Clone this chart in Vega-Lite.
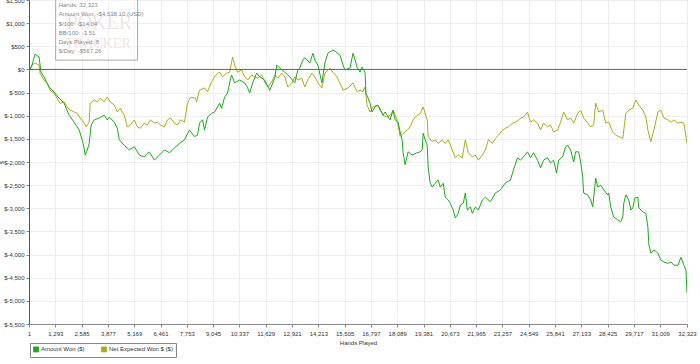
{
  "$schema": "https://vega.github.io/schema/vega-lite/v6.json",
  "width": 658,
  "height": 324,
  "autosize": {"type": "none"},
  "padding": {"left": 29, "top": 0, "right": 13, "bottom": 40},
  "background": "white",
  "config": {
    "font": "Liberation Sans",
    "view": {"stroke": "#888", "strokeWidth": 1},
    "axis": {"labelFontSize": 6, "labelColor": "#333", "titleFontSize": 6, "titleFontWeight": "normal", "titleColor": "#333", "gridColor": "#eeeeee", "tickColor": "#888", "tickSize": 3}
  },
  "datasets": {
    "series": [
      {"hands": 1, "value": -50, "series": "Net Expected Won $ ($)"},
      {"hands": 149, "value": 95, "series": "Net Expected Won $ ($)"},
      {"hands": 297, "value": 140, "series": "Net Expected Won $ ($)"},
      {"hands": 494, "value": 95, "series": "Net Expected Won $ ($)"},
      {"hands": 543, "value": -80, "series": "Net Expected Won $ ($)"},
      {"hands": 740, "value": -230, "series": "Net Expected Won $ ($)"},
      {"hands": 888, "value": -290, "series": "Net Expected Won $ ($)"},
      {"hands": 1036, "value": -450, "series": "Net Expected Won $ ($)"},
      {"hands": 1233, "value": -510, "series": "Net Expected Won $ ($)"},
      {"hands": 1381, "value": -620, "series": "Net Expected Won $ ($)"},
      {"hands": 1528, "value": -730, "series": "Net Expected Won $ ($)"},
      {"hands": 1725, "value": -700, "series": "Net Expected Won $ ($)"},
      {"hands": 1873, "value": -810, "series": "Net Expected Won $ ($)"},
      {"hands": 2021, "value": -880, "series": "Net Expected Won $ ($)"},
      {"hands": 2218, "value": -920, "series": "Net Expected Won $ ($)"},
      {"hands": 2366, "value": -950, "series": "Net Expected Won $ ($)"},
      {"hands": 2514, "value": -1050, "series": "Net Expected Won $ ($)"},
      {"hands": 2711, "value": -1160, "series": "Net Expected Won $ ($)"},
      {"hands": 2809, "value": -1240, "series": "Net Expected Won $ ($)"},
      {"hands": 2957, "value": -1140, "series": "Net Expected Won $ ($)"},
      {"hands": 3006, "value": -730, "series": "Net Expected Won $ ($)"},
      {"hands": 3204, "value": -660, "series": "Net Expected Won $ ($)"},
      {"hands": 3351, "value": -700, "series": "Net Expected Won $ ($)"},
      {"hands": 3499, "value": -620, "series": "Net Expected Won $ ($)"},
      {"hands": 3696, "value": -700, "series": "Net Expected Won $ ($)"},
      {"hands": 3844, "value": -600, "series": "Net Expected Won $ ($)"},
      {"hands": 3992, "value": -700, "series": "Net Expected Won $ ($)"},
      {"hands": 4189, "value": -770, "series": "Net Expected Won $ ($)"},
      {"hands": 4337, "value": -920, "series": "Net Expected Won $ ($)"},
      {"hands": 4485, "value": -840, "series": "Net Expected Won $ ($)"},
      {"hands": 4682, "value": -990, "series": "Net Expected Won $ ($)"},
      {"hands": 4829, "value": -1240, "series": "Net Expected Won $ ($)"},
      {"hands": 4977, "value": -1200, "series": "Net Expected Won $ ($)"},
      {"hands": 5174, "value": -1090, "series": "Net Expected Won $ ($)"},
      {"hands": 5322, "value": -1240, "series": "Net Expected Won $ ($)"},
      {"hands": 5470, "value": -1270, "series": "Net Expected Won $ ($)"},
      {"hands": 5667, "value": -1160, "series": "Net Expected Won $ ($)"},
      {"hands": 5815, "value": -1200, "series": "Net Expected Won $ ($)"},
      {"hands": 5963, "value": -1090, "series": "Net Expected Won $ ($)"},
      {"hands": 6160, "value": -1160, "series": "Net Expected Won $ ($)"},
      {"hands": 6308, "value": -1140, "series": "Net Expected Won $ ($)"},
      {"hands": 6455, "value": -1200, "series": "Net Expected Won $ ($)"},
      {"hands": 6652, "value": -1240, "series": "Net Expected Won $ ($)"},
      {"hands": 6800, "value": -1090, "series": "Net Expected Won $ ($)"},
      {"hands": 6948, "value": -1050, "series": "Net Expected Won $ ($)"},
      {"hands": 7145, "value": -1160, "series": "Net Expected Won $ ($)"},
      {"hands": 7293, "value": -1200, "series": "Net Expected Won $ ($)"},
      {"hands": 7441, "value": -1090, "series": "Net Expected Won $ ($)"},
      {"hands": 7638, "value": -1140, "series": "Net Expected Won $ ($)"},
      {"hands": 7786, "value": -730, "series": "Net Expected Won $ ($)"},
      {"hands": 7934, "value": -600, "series": "Net Expected Won $ ($)"},
      {"hands": 8180, "value": -620, "series": "Net Expected Won $ ($)"},
      {"hands": 8229, "value": -700, "series": "Net Expected Won $ ($)"},
      {"hands": 8377, "value": -450, "series": "Net Expected Won $ ($)"},
      {"hands": 8623, "value": -400, "series": "Net Expected Won $ ($)"},
      {"hands": 8771, "value": -480, "series": "Net Expected Won $ ($)"},
      {"hands": 8968, "value": -270, "series": "Net Expected Won $ ($)"},
      {"hands": 9116, "value": -160, "series": "Net Expected Won $ ($)"},
      {"hands": 9264, "value": -80, "series": "Net Expected Won $ ($)"},
      {"hands": 9362, "value": -60, "series": "Net Expected Won $ ($)"},
      {"hands": 9510, "value": -160, "series": "Net Expected Won $ ($)"},
      {"hands": 9707, "value": -80, "series": "Net Expected Won $ ($)"},
      {"hands": 9855, "value": -60, "series": "Net Expected Won $ ($)"},
      {"hands": 10003, "value": 270, "series": "Net Expected Won $ ($)"},
      {"hands": 10101, "value": 95, "series": "Net Expected Won $ ($)"},
      {"hands": 10249, "value": -60, "series": "Net Expected Won $ ($)"},
      {"hands": 10446, "value": -10, "series": "Net Expected Won $ ($)"},
      {"hands": 10594, "value": -160, "series": "Net Expected Won $ ($)"},
      {"hands": 10742, "value": -230, "series": "Net Expected Won $ ($)"},
      {"hands": 10939, "value": -120, "series": "Net Expected Won $ ($)"},
      {"hands": 11087, "value": -160, "series": "Net Expected Won $ ($)"},
      {"hands": 11234, "value": -190, "series": "Net Expected Won $ ($)"},
      {"hands": 11432, "value": -120, "series": "Net Expected Won $ ($)"},
      {"hands": 11579, "value": -270, "series": "Net Expected Won $ ($)"},
      {"hands": 11727, "value": -380, "series": "Net Expected Won $ ($)"},
      {"hands": 11924, "value": -270, "series": "Net Expected Won $ ($)"},
      {"hands": 12072, "value": -120, "series": "Net Expected Won $ ($)"},
      {"hands": 12220, "value": -190, "series": "Net Expected Won $ ($)"},
      {"hands": 12417, "value": -80, "series": "Net Expected Won $ ($)"},
      {"hands": 12565, "value": -160, "series": "Net Expected Won $ ($)"},
      {"hands": 12713, "value": -380, "series": "Net Expected Won $ ($)"},
      {"hands": 12910, "value": -290, "series": "Net Expected Won $ ($)"},
      {"hands": 13058, "value": -160, "series": "Net Expected Won $ ($)"},
      {"hands": 13206, "value": -230, "series": "Net Expected Won $ ($)"},
      {"hands": 13403, "value": -190, "series": "Net Expected Won $ ($)"},
      {"hands": 13550, "value": -380, "series": "Net Expected Won $ ($)"},
      {"hands": 13698, "value": -230, "series": "Net Expected Won $ ($)"},
      {"hands": 13895, "value": -80, "series": "Net Expected Won $ ($)"},
      {"hands": 14043, "value": -160, "series": "Net Expected Won $ ($)"},
      {"hands": 14191, "value": -290, "series": "Net Expected Won $ ($)"},
      {"hands": 14388, "value": -400, "series": "Net Expected Won $ ($)"},
      {"hands": 14536, "value": -80, "series": "Net Expected Won $ ($)"},
      {"hands": 14782, "value": 30, "series": "Net Expected Won $ ($)"},
      {"hands": 14930, "value": -60, "series": "Net Expected Won $ ($)"},
      {"hands": 15127, "value": -160, "series": "Net Expected Won $ ($)"},
      {"hands": 15374, "value": -380, "series": "Net Expected Won $ ($)"},
      {"hands": 15423, "value": -450, "series": "Net Expected Won $ ($)"},
      {"hands": 15669, "value": -400, "series": "Net Expected Won $ ($)"},
      {"hands": 15916, "value": -290, "series": "Net Expected Won $ ($)"},
      {"hands": 16112, "value": -480, "series": "Net Expected Won $ ($)"},
      {"hands": 16260, "value": -450, "series": "Net Expected Won $ ($)"},
      {"hands": 16408, "value": -480, "series": "Net Expected Won $ ($)"},
      {"hands": 16506, "value": -380, "series": "Net Expected Won $ ($)"},
      {"hands": 16605, "value": -770, "series": "Net Expected Won $ ($)"},
      {"hands": 16753, "value": -920, "series": "Net Expected Won $ ($)"},
      {"hands": 16901, "value": -810, "series": "Net Expected Won $ ($)"},
      {"hands": 17098, "value": -770, "series": "Net Expected Won $ ($)"},
      {"hands": 17246, "value": -840, "series": "Net Expected Won $ ($)"},
      {"hands": 17393, "value": -990, "series": "Net Expected Won $ ($)"},
      {"hands": 17590, "value": -1030, "series": "Net Expected Won $ ($)"},
      {"hands": 17738, "value": -990, "series": "Net Expected Won $ ($)"},
      {"hands": 17886, "value": -880, "series": "Net Expected Won $ ($)"},
      {"hands": 18083, "value": -1090, "series": "Net Expected Won $ ($)"},
      {"hands": 18231, "value": -1450, "series": "Net Expected Won $ ($)"},
      {"hands": 18379, "value": -1380, "series": "Net Expected Won $ ($)"},
      {"hands": 18576, "value": -1310, "series": "Net Expected Won $ ($)"},
      {"hands": 18724, "value": -1240, "series": "Net Expected Won $ ($)"},
      {"hands": 18871, "value": -1090, "series": "Net Expected Won $ ($)"},
      {"hands": 19068, "value": -990, "series": "Net Expected Won $ ($)"},
      {"hands": 19216, "value": -950, "series": "Net Expected Won $ ($)"},
      {"hands": 19364, "value": -810, "series": "Net Expected Won $ ($)"},
      {"hands": 19561, "value": -1090, "series": "Net Expected Won $ ($)"},
      {"hands": 19610, "value": -1450, "series": "Net Expected Won $ ($)"},
      {"hands": 19808, "value": -1560, "series": "Net Expected Won $ ($)"},
      {"hands": 19955, "value": -1520, "series": "Net Expected Won $ ($)"},
      {"hands": 20103, "value": -1600, "series": "Net Expected Won $ ($)"},
      {"hands": 20300, "value": -1520, "series": "Net Expected Won $ ($)"},
      {"hands": 20448, "value": -1600, "series": "Net Expected Won $ ($)"},
      {"hands": 20596, "value": -1520, "series": "Net Expected Won $ ($)"},
      {"hands": 20793, "value": -1740, "series": "Net Expected Won $ ($)"},
      {"hands": 20941, "value": -1910, "series": "Net Expected Won $ ($)"},
      {"hands": 21089, "value": -1850, "series": "Net Expected Won $ ($)"},
      {"hands": 21286, "value": -1910, "series": "Net Expected Won $ ($)"},
      {"hands": 21434, "value": -1520, "series": "Net Expected Won $ ($)"},
      {"hands": 21581, "value": -1800, "series": "Net Expected Won $ ($)"},
      {"hands": 21779, "value": -1890, "series": "Net Expected Won $ ($)"},
      {"hands": 21926, "value": -1850, "series": "Net Expected Won $ ($)"},
      {"hands": 22074, "value": -1960, "series": "Net Expected Won $ ($)"},
      {"hands": 22271, "value": -1850, "series": "Net Expected Won $ ($)"},
      {"hands": 22419, "value": -1740, "series": "Net Expected Won $ ($)"},
      {"hands": 22567, "value": -1520, "series": "Net Expected Won $ ($)"},
      {"hands": 22764, "value": -1600, "series": "Net Expected Won $ ($)"},
      {"hands": 22912, "value": -1490, "series": "Net Expected Won $ ($)"},
      {"hands": 23060, "value": -1420, "series": "Net Expected Won $ ($)"},
      {"hands": 23257, "value": -1310, "series": "Net Expected Won $ ($)"},
      {"hands": 23405, "value": -1270, "series": "Net Expected Won $ ($)"},
      {"hands": 23553, "value": -1240, "series": "Net Expected Won $ ($)"},
      {"hands": 23750, "value": -1160, "series": "Net Expected Won $ ($)"},
      {"hands": 23897, "value": -1140, "series": "Net Expected Won $ ($)"},
      {"hands": 24045, "value": -1100, "series": "Net Expected Won $ ($)"},
      {"hands": 24144, "value": -1050, "series": "Net Expected Won $ ($)"},
      {"hands": 24292, "value": -1030, "series": "Net Expected Won $ ($)"},
      {"hands": 24489, "value": -920, "series": "Net Expected Won $ ($)"},
      {"hands": 24636, "value": -1140, "series": "Net Expected Won $ ($)"},
      {"hands": 24784, "value": -1090, "series": "Net Expected Won $ ($)"},
      {"hands": 24981, "value": -1160, "series": "Net Expected Won $ ($)"},
      {"hands": 25129, "value": -1310, "series": "Net Expected Won $ ($)"},
      {"hands": 25277, "value": -1160, "series": "Net Expected Won $ ($)"},
      {"hands": 25474, "value": -1240, "series": "Net Expected Won $ ($)"},
      {"hands": 25621, "value": -1200, "series": "Net Expected Won $ ($)"},
      {"hands": 25769, "value": -1350, "series": "Net Expected Won $ ($)"},
      {"hands": 25966, "value": -1310, "series": "Net Expected Won $ ($)"},
      {"hands": 26114, "value": -1140, "series": "Net Expected Won $ ($)"},
      {"hands": 26262, "value": -920, "series": "Net Expected Won $ ($)"},
      {"hands": 26459, "value": -1090, "series": "Net Expected Won $ ($)"},
      {"hands": 26607, "value": -1050, "series": "Net Expected Won $ ($)"},
      {"hands": 26755, "value": -1160, "series": "Net Expected Won $ ($)"},
      {"hands": 26952, "value": -950, "series": "Net Expected Won $ ($)"},
      {"hands": 27100, "value": -880, "series": "Net Expected Won $ ($)"},
      {"hands": 27247, "value": -1050, "series": "Net Expected Won $ ($)"},
      {"hands": 27444, "value": -1160, "series": "Net Expected Won $ ($)"},
      {"hands": 27592, "value": -1240, "series": "Net Expected Won $ ($)"},
      {"hands": 27740, "value": -1200, "series": "Net Expected Won $ ($)"},
      {"hands": 27838, "value": -730, "series": "Net Expected Won $ ($)"},
      {"hands": 27986, "value": -920, "series": "Net Expected Won $ ($)"},
      {"hands": 28183, "value": -880, "series": "Net Expected Won $ ($)"},
      {"hands": 28331, "value": -1160, "series": "Net Expected Won $ ($)"},
      {"hands": 28479, "value": -1140, "series": "Net Expected Won $ ($)"},
      {"hands": 28676, "value": -1350, "series": "Net Expected Won $ ($)"},
      {"hands": 28824, "value": -1420, "series": "Net Expected Won $ ($)"},
      {"hands": 28972, "value": -1450, "series": "Net Expected Won $ ($)"},
      {"hands": 29169, "value": -1490, "series": "Net Expected Won $ ($)"},
      {"hands": 29218, "value": -1310, "series": "Net Expected Won $ ($)"},
      {"hands": 29317, "value": -950, "series": "Net Expected Won $ ($)"},
      {"hands": 29464, "value": -880, "series": "Net Expected Won $ ($)"},
      {"hands": 29662, "value": -840, "series": "Net Expected Won $ ($)"},
      {"hands": 29809, "value": -660, "series": "Net Expected Won $ ($)"},
      {"hands": 29957, "value": -770, "series": "Net Expected Won $ ($)"},
      {"hands": 30154, "value": -880, "series": "Net Expected Won $ ($)"},
      {"hands": 30302, "value": -1030, "series": "Net Expected Won $ ($)"},
      {"hands": 30401, "value": -1310, "series": "Net Expected Won $ ($)"},
      {"hands": 30549, "value": -1560, "series": "Net Expected Won $ ($)"},
      {"hands": 30696, "value": -1310, "series": "Net Expected Won $ ($)"},
      {"hands": 30893, "value": -920, "series": "Net Expected Won $ ($)"},
      {"hands": 31041, "value": -880, "series": "Net Expected Won $ ($)"},
      {"hands": 31189, "value": -1050, "series": "Net Expected Won $ ($)"},
      {"hands": 31386, "value": -1090, "series": "Net Expected Won $ ($)"},
      {"hands": 31534, "value": -1140, "series": "Net Expected Won $ ($)"},
      {"hands": 31681, "value": -1090, "series": "Net Expected Won $ ($)"},
      {"hands": 31878, "value": -1160, "series": "Net Expected Won $ ($)"},
      {"hands": 32026, "value": -1140, "series": "Net Expected Won $ ($)"},
      {"hands": 32174, "value": -1160, "series": "Net Expected Won $ ($)"},
      {"hands": 32323, "value": -1600, "series": "Net Expected Won $ ($)"},
      {"hands": 1, "value": -50, "series": "Amount Won ($)"},
      {"hands": 149, "value": 95, "series": "Amount Won ($)"},
      {"hands": 297, "value": 330, "series": "Amount Won ($)"},
      {"hands": 494, "value": 270, "series": "Amount Won ($)"},
      {"hands": 592, "value": -60, "series": "Amount Won ($)"},
      {"hands": 740, "value": -160, "series": "Amount Won ($)"},
      {"hands": 986, "value": -380, "series": "Amount Won ($)"},
      {"hands": 1233, "value": -490, "series": "Amount Won ($)"},
      {"hands": 1479, "value": -620, "series": "Amount Won ($)"},
      {"hands": 1725, "value": -730, "series": "Amount Won ($)"},
      {"hands": 1972, "value": -990, "series": "Amount Won ($)"},
      {"hands": 2218, "value": -1140, "series": "Amount Won ($)"},
      {"hands": 2465, "value": -1310, "series": "Amount Won ($)"},
      {"hands": 2612, "value": -1520, "series": "Amount Won ($)"},
      {"hands": 2711, "value": -1700, "series": "Amount Won ($)"},
      {"hands": 2760, "value": -1850, "series": "Amount Won ($)"},
      {"hands": 2859, "value": -1750, "series": "Amount Won ($)"},
      {"hands": 2957, "value": -1600, "series": "Amount Won ($)"},
      {"hands": 3056, "value": -1200, "series": "Amount Won ($)"},
      {"hands": 3204, "value": -1090, "series": "Amount Won ($)"},
      {"hands": 3450, "value": -1050, "series": "Amount Won ($)"},
      {"hands": 3696, "value": -990, "series": "Amount Won ($)"},
      {"hands": 3844, "value": -1090, "series": "Amount Won ($)"},
      {"hands": 3943, "value": -1030, "series": "Amount Won ($)"},
      {"hands": 4189, "value": -1140, "series": "Amount Won ($)"},
      {"hands": 4337, "value": -1270, "series": "Amount Won ($)"},
      {"hands": 4435, "value": -1520, "series": "Amount Won ($)"},
      {"hands": 4682, "value": -1640, "series": "Amount Won ($)"},
      {"hands": 4928, "value": -1740, "series": "Amount Won ($)"},
      {"hands": 5174, "value": -1670, "series": "Amount Won ($)"},
      {"hands": 5421, "value": -1850, "series": "Amount Won ($)"},
      {"hands": 5667, "value": -1890, "series": "Amount Won ($)"},
      {"hands": 5913, "value": -1780, "series": "Amount Won ($)"},
      {"hands": 6160, "value": -1960, "series": "Amount Won ($)"},
      {"hands": 6406, "value": -1850, "series": "Amount Won ($)"},
      {"hands": 6652, "value": -1740, "series": "Amount Won ($)"},
      {"hands": 6899, "value": -1800, "series": "Amount Won ($)"},
      {"hands": 7145, "value": -1700, "series": "Amount Won ($)"},
      {"hands": 7391, "value": -1600, "series": "Amount Won ($)"},
      {"hands": 7638, "value": -1520, "series": "Amount Won ($)"},
      {"hands": 7884, "value": -1310, "series": "Amount Won ($)"},
      {"hands": 8131, "value": -1450, "series": "Amount Won ($)"},
      {"hands": 8279, "value": -1420, "series": "Amount Won ($)"},
      {"hands": 8377, "value": -1160, "series": "Amount Won ($)"},
      {"hands": 8525, "value": -1090, "series": "Amount Won ($)"},
      {"hands": 8623, "value": -1310, "series": "Amount Won ($)"},
      {"hands": 8771, "value": -1030, "series": "Amount Won ($)"},
      {"hands": 8968, "value": -950, "series": "Amount Won ($)"},
      {"hands": 9116, "value": -920, "series": "Amount Won ($)"},
      {"hands": 9264, "value": -810, "series": "Amount Won ($)"},
      {"hands": 9362, "value": -730, "series": "Amount Won ($)"},
      {"hands": 9461, "value": -840, "series": "Amount Won ($)"},
      {"hands": 9609, "value": -600, "series": "Amount Won ($)"},
      {"hands": 9756, "value": -510, "series": "Amount Won ($)"},
      {"hands": 9855, "value": -290, "series": "Amount Won ($)"},
      {"hands": 9953, "value": -120, "series": "Amount Won ($)"},
      {"hands": 10101, "value": -290, "series": "Amount Won ($)"},
      {"hands": 10348, "value": -230, "series": "Amount Won ($)"},
      {"hands": 10594, "value": -290, "series": "Amount Won ($)"},
      {"hands": 10742, "value": -400, "series": "Amount Won ($)"},
      {"hands": 10840, "value": -510, "series": "Amount Won ($)"},
      {"hands": 10988, "value": -290, "series": "Amount Won ($)"},
      {"hands": 11185, "value": -80, "series": "Amount Won ($)"},
      {"hands": 11333, "value": -160, "series": "Amount Won ($)"},
      {"hands": 11579, "value": -230, "series": "Amount Won ($)"},
      {"hands": 11826, "value": -450, "series": "Amount Won ($)"},
      {"hands": 12072, "value": -190, "series": "Amount Won ($)"},
      {"hands": 12171, "value": 95, "series": "Amount Won ($)"},
      {"hands": 12319, "value": 30, "series": "Amount Won ($)"},
      {"hands": 12565, "value": -60, "series": "Amount Won ($)"},
      {"hands": 12811, "value": -160, "series": "Amount Won ($)"},
      {"hands": 13058, "value": -290, "series": "Amount Won ($)"},
      {"hands": 13206, "value": -10, "series": "Amount Won ($)"},
      {"hands": 13304, "value": 30, "series": "Amount Won ($)"},
      {"hands": 13452, "value": 200, "series": "Amount Won ($)"},
      {"hands": 13550, "value": 250, "series": "Amount Won ($)"},
      {"hands": 13797, "value": 140, "series": "Amount Won ($)"},
      {"hands": 13945, "value": 350, "series": "Amount Won ($)"},
      {"hands": 14043, "value": 200, "series": "Amount Won ($)"},
      {"hands": 14191, "value": 95, "series": "Amount Won ($)"},
      {"hands": 14388, "value": -290, "series": "Amount Won ($)"},
      {"hands": 14536, "value": 140, "series": "Amount Won ($)"},
      {"hands": 14684, "value": 350, "series": "Amount Won ($)"},
      {"hands": 14930, "value": 420, "series": "Amount Won ($)"},
      {"hands": 15078, "value": 380, "series": "Amount Won ($)"},
      {"hands": 15275, "value": 310, "series": "Amount Won ($)"},
      {"hands": 15423, "value": 95, "series": "Amount Won ($)"},
      {"hands": 15521, "value": -10, "series": "Amount Won ($)"},
      {"hands": 15768, "value": 30, "series": "Amount Won ($)"},
      {"hands": 15916, "value": 350, "series": "Amount Won ($)"},
      {"hands": 16063, "value": 140, "series": "Amount Won ($)"},
      {"hands": 16112, "value": 50, "series": "Amount Won ($)"},
      {"hands": 16260, "value": -60, "series": "Amount Won ($)"},
      {"hands": 16359, "value": 50, "series": "Amount Won ($)"},
      {"hands": 16506, "value": -60, "series": "Amount Won ($)"},
      {"hands": 16556, "value": -510, "series": "Amount Won ($)"},
      {"hands": 16753, "value": -730, "series": "Amount Won ($)"},
      {"hands": 16851, "value": -920, "series": "Amount Won ($)"},
      {"hands": 16999, "value": -810, "series": "Amount Won ($)"},
      {"hands": 17147, "value": -770, "series": "Amount Won ($)"},
      {"hands": 17246, "value": -880, "series": "Amount Won ($)"},
      {"hands": 17393, "value": -990, "series": "Amount Won ($)"},
      {"hands": 17492, "value": -920, "series": "Amount Won ($)"},
      {"hands": 17738, "value": -1090, "series": "Amount Won ($)"},
      {"hands": 17886, "value": -880, "series": "Amount Won ($)"},
      {"hands": 17985, "value": -1090, "series": "Amount Won ($)"},
      {"hands": 18132, "value": -1140, "series": "Amount Won ($)"},
      {"hands": 18231, "value": -1350, "series": "Amount Won ($)"},
      {"hands": 18330, "value": -1520, "series": "Amount Won ($)"},
      {"hands": 18379, "value": -1800, "series": "Amount Won ($)"},
      {"hands": 18477, "value": -2060, "series": "Amount Won ($)"},
      {"hands": 18625, "value": -1780, "series": "Amount Won ($)"},
      {"hands": 18822, "value": -1850, "series": "Amount Won ($)"},
      {"hands": 19068, "value": -1800, "series": "Amount Won ($)"},
      {"hands": 19216, "value": -1780, "series": "Amount Won ($)"},
      {"hands": 19315, "value": -1740, "series": "Amount Won ($)"},
      {"hands": 19364, "value": -1380, "series": "Amount Won ($)"},
      {"hands": 19463, "value": -1520, "series": "Amount Won ($)"},
      {"hands": 19561, "value": -1640, "series": "Amount Won ($)"},
      {"hands": 19610, "value": -2110, "series": "Amount Won ($)"},
      {"hands": 19709, "value": -2460, "series": "Amount Won ($)"},
      {"hands": 19808, "value": -2540, "series": "Amount Won ($)"},
      {"hands": 19955, "value": -2460, "series": "Amount Won ($)"},
      {"hands": 20103, "value": -2390, "series": "Amount Won ($)"},
      {"hands": 20202, "value": -2540, "series": "Amount Won ($)"},
      {"hands": 20350, "value": -2460, "series": "Amount Won ($)"},
      {"hands": 20448, "value": -2760, "series": "Amount Won ($)"},
      {"hands": 20596, "value": -2820, "series": "Amount Won ($)"},
      {"hands": 20695, "value": -2890, "series": "Amount Won ($)"},
      {"hands": 20842, "value": -3040, "series": "Amount Won ($)"},
      {"hands": 20941, "value": -3210, "series": "Amount Won ($)"},
      {"hands": 21089, "value": -3110, "series": "Amount Won ($)"},
      {"hands": 21187, "value": -2930, "series": "Amount Won ($)"},
      {"hands": 21335, "value": -2890, "series": "Amount Won ($)"},
      {"hands": 21434, "value": -2670, "series": "Amount Won ($)"},
      {"hands": 21532, "value": -3040, "series": "Amount Won ($)"},
      {"hands": 21680, "value": -2970, "series": "Amount Won ($)"},
      {"hands": 21779, "value": -3110, "series": "Amount Won ($)"},
      {"hands": 21926, "value": -2970, "series": "Amount Won ($)"},
      {"hands": 22074, "value": -3040, "series": "Amount Won ($)"},
      {"hands": 22271, "value": -2820, "series": "Amount Won ($)"},
      {"hands": 22419, "value": -2760, "series": "Amount Won ($)"},
      {"hands": 22665, "value": -2860, "series": "Amount Won ($)"},
      {"hands": 22912, "value": -2670, "series": "Amount Won ($)"},
      {"hands": 23158, "value": -2600, "series": "Amount Won ($)"},
      {"hands": 23405, "value": -2450, "series": "Amount Won ($)"},
      {"hands": 23651, "value": -2390, "series": "Amount Won ($)"},
      {"hands": 23799, "value": -2170, "series": "Amount Won ($)"},
      {"hands": 23996, "value": -1910, "series": "Amount Won ($)"},
      {"hands": 24144, "value": -1960, "series": "Amount Won ($)"},
      {"hands": 24292, "value": -1890, "series": "Amount Won ($)"},
      {"hands": 24489, "value": -1780, "series": "Amount Won ($)"},
      {"hands": 24636, "value": -1910, "series": "Amount Won ($)"},
      {"hands": 24784, "value": -1800, "series": "Amount Won ($)"},
      {"hands": 24981, "value": -1960, "series": "Amount Won ($)"},
      {"hands": 25129, "value": -2130, "series": "Amount Won ($)"},
      {"hands": 25277, "value": -1960, "series": "Amount Won ($)"},
      {"hands": 25474, "value": -1910, "series": "Amount Won ($)"},
      {"hands": 25621, "value": -2020, "series": "Amount Won ($)"},
      {"hands": 25769, "value": -1960, "series": "Amount Won ($)"},
      {"hands": 25917, "value": -2240, "series": "Amount Won ($)"},
      {"hands": 26016, "value": -1960, "series": "Amount Won ($)"},
      {"hands": 26213, "value": -1890, "series": "Amount Won ($)"},
      {"hands": 26360, "value": -1670, "series": "Amount Won ($)"},
      {"hands": 26459, "value": -1640, "series": "Amount Won ($)"},
      {"hands": 26607, "value": -1740, "series": "Amount Won ($)"},
      {"hands": 26755, "value": -2000, "series": "Amount Won ($)"},
      {"hands": 26853, "value": -1780, "series": "Amount Won ($)"},
      {"hands": 27001, "value": -1780, "series": "Amount Won ($)"},
      {"hands": 27100, "value": -2000, "series": "Amount Won ($)"},
      {"hands": 27198, "value": -2320, "series": "Amount Won ($)"},
      {"hands": 27247, "value": -2670, "series": "Amount Won ($)"},
      {"hands": 27444, "value": -2710, "series": "Amount Won ($)"},
      {"hands": 27592, "value": -2820, "series": "Amount Won ($)"},
      {"hands": 27691, "value": -2970, "series": "Amount Won ($)"},
      {"hands": 27838, "value": -2350, "series": "Amount Won ($)"},
      {"hands": 27937, "value": -2540, "series": "Amount Won ($)"},
      {"hands": 28085, "value": -2500, "series": "Amount Won ($)"},
      {"hands": 28233, "value": -2600, "series": "Amount Won ($)"},
      {"hands": 28430, "value": -2710, "series": "Amount Won ($)"},
      {"hands": 28479, "value": -2670, "series": "Amount Won ($)"},
      {"hands": 28577, "value": -2970, "series": "Amount Won ($)"},
      {"hands": 28725, "value": -3190, "series": "Amount Won ($)"},
      {"hands": 28922, "value": -3250, "series": "Amount Won ($)"},
      {"hands": 29070, "value": -3290, "series": "Amount Won ($)"},
      {"hands": 29169, "value": -3190, "series": "Amount Won ($)"},
      {"hands": 29218, "value": -2890, "series": "Amount Won ($)"},
      {"hands": 29317, "value": -2710, "series": "Amount Won ($)"},
      {"hands": 29464, "value": -2820, "series": "Amount Won ($)"},
      {"hands": 29563, "value": -3040, "series": "Amount Won ($)"},
      {"hands": 29662, "value": -2990, "series": "Amount Won ($)"},
      {"hands": 29760, "value": -2780, "series": "Amount Won ($)"},
      {"hands": 29908, "value": -2760, "series": "Amount Won ($)"},
      {"hands": 29957, "value": -2990, "series": "Amount Won ($)"},
      {"hands": 30154, "value": -3080, "series": "Amount Won ($)"},
      {"hands": 30302, "value": -3110, "series": "Amount Won ($)"},
      {"hands": 30401, "value": -3400, "series": "Amount Won ($)"},
      {"hands": 30450, "value": -3790, "series": "Amount Won ($)"},
      {"hands": 30549, "value": -3970, "series": "Amount Won ($)"},
      {"hands": 30696, "value": -3900, "series": "Amount Won ($)"},
      {"hands": 30893, "value": -3970, "series": "Amount Won ($)"},
      {"hands": 31041, "value": -4120, "series": "Amount Won ($)"},
      {"hands": 31189, "value": -4160, "series": "Amount Won ($)"},
      {"hands": 31386, "value": -4190, "series": "Amount Won ($)"},
      {"hands": 31534, "value": -4160, "series": "Amount Won ($)"},
      {"hands": 31681, "value": -4230, "series": "Amount Won ($)"},
      {"hands": 31878, "value": -4230, "series": "Amount Won ($)"},
      {"hands": 32026, "value": -4060, "series": "Amount Won ($)"},
      {"hands": 32174, "value": -4230, "series": "Amount Won ($)"},
      {"hands": 32273, "value": -4340, "series": "Amount Won ($)"},
      {"hands": 32323, "value": -4830, "series": "Amount Won ($)"}
    ],
    "info": [
      {"hands": 1458, "value": 1392, "label": "Hands: 32,323"},
      {"hands": 1458, "value": 1197, "label": "Amount Won: -$4,538.10 (USD)"},
      {"hands": 1458, "value": 981, "label": "$/100: -$14.04"},
      {"hands": 1458, "value": 786, "label": "BB/100: -3.51"},
      {"hands": 1458, "value": 592, "label": "Days Played: 8"},
      {"hands": 1458, "value": 397, "label": "$/Day: -$567.26"}
    ]
  },
  "encoding": {
    "x": {
      "field": "hands", "type": "quantitative",
      "scale": {"domain": [1, 32323], "nice": false, "zero": false},
      "axis": {
        "values": [1, 1293, 2585, 3877, 5169, 6461, 7753, 9045, 10337, 11629, 12921, 14213, 15505, 16797, 18089, 19381, 20673, 21965, 23257, 24549, 25841, 27133, 28425, 29717, 31009, 32323],
        "labelExpr": "format(datum.value, ',')", "labelOverlap": false, "labelFlush": false, "labelPadding": 3,
        "domainColor": "#888", "grid": true, "title": "Hands Played", "titlePadding": 3
      }
    },
    "y": {
      "field": "value", "type": "quantitative",
      "scale": {"domain": [-5500, 1500], "nice": false, "zero": false},
      "axis": {
        "values": [-5500, -5000, -4500, -4000, -3500, -3000, -2500, -2000, -1500, -1000, -500, 0, 500, 1000, 1500],
        "labelExpr": "datum.value < 0 ? '$-' + format(-datum.value, ',') : '$' + format(datum.value, ',')",
        "labelOverlap": false, "labelPadding": 2, "domainColor": "#555", "grid": true,
        "title": "$", "titleX": -25
      }
    }
  },
  "layer": [
    {
      "data": {"values": [{"text": "POKER", "hands": 3450, "value": 1000, "size": 20}, {"text": "TRACKER", "hands": 3400, "value": 540, "size": 14}]},
      "mark": {"type": "text", "font": "Liberation Serif", "color": "#ecd8d8", "align": "center", "baseline": "middle"},
      "encoding": {
        "text": {"field": "text"},
        "size": {"field": "size", "type": "quantitative", "scale": null, "legend": null}
      }
    },
    {
      "data": {"name": "series"},
      "mark": {"type": "line", "strokeWidth": 1, "clip": true},
      "encoding": {
        "color": {
          "field": "series", "type": "nominal",
          "scale": {"domain": ["Amount Won ($)", "Net Expected Won $ ($)"], "range": ["#1fa81f", "#abab22"]},
          "legend": {
            "title": null, "orient": "none", "legendX": 1, "legendY": 343, "direction": "horizontal",
            "padding": 3, "strokeColor": "#888", "symbolType": "square", "symbolSize": 25,
            "labelFontSize": 6, "labelColor": "#333", "columnPadding": 14, "labelOffset": 2,
            "encode": {"symbols": {"update": {"fill": {"scale": "color", "field": "value"}, "stroke": {"value": "#333"}, "strokeWidth": {"value": 0.8}}}}
          }
        }
      }
    },
    {
      "data": {"values": [{"hands": 1, "value": 0}, {"hands": 32323, "value": 0}]},
      "mark": {"type": "line", "color": "#666", "strokeWidth": 1}
    },
    {
      "data": {"values": [{"hands": 1311, "hands2": 5337, "value": 202, "value2": 1600}]},
      "mark": {"type": "rect", "fill": "white", "fillOpacity": 0.35, "stroke": "#aaa", "strokeWidth": 1, "clip": true},
      "encoding": {
        "x2": {"field": "hands2"},
        "y2": {"field": "value2"}
      }
    },
    {
      "data": {"name": "info"},
      "mark": {"type": "text", "align": "left", "baseline": "middle", "fontSize": 6, "color": "#8a8a8a"},
      "encoding": {
        "text": {"field": "label"}
      }
    }
  ]
}
